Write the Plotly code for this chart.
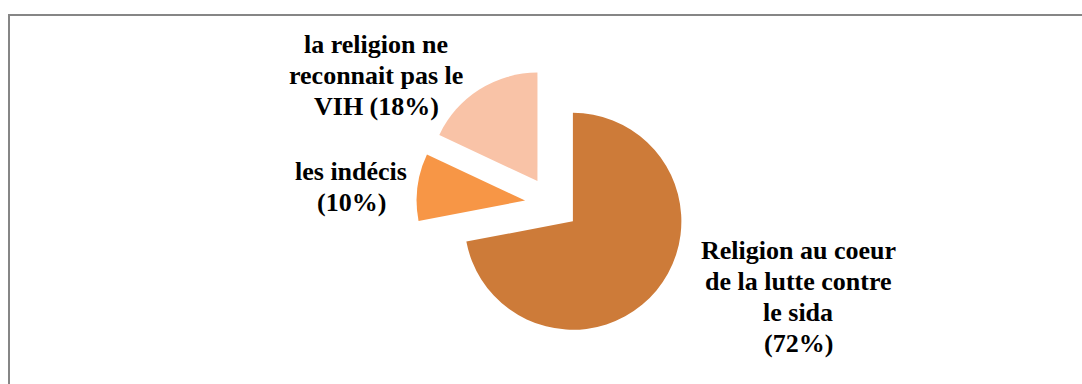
import plotly.graph_objects as go

# Slice data (clockwise from 12 o'clock)
categories = [
    "Religion au coeur de la lutte contre le sida",
    "les indécis",
    "la religion ne reconnait pas le VIH",
]
shares = [72, 10, 18]
colors = ["#CD7B39", "#F79646", "#F9C3A7"]

# Label lines and placement (pixels from the top-left corner)
label_lines = [
    ["Religion au coeur", "de la lutte contre", "le sida", "(72%)"],
    ["les indécis", "(10%)"],
    ["la religion ne", "reconnait pas le", "VIH (18%)"],
]
label_x = [798, 351, 376]
label_first_y = [250, 171, 44]
line_step = 31

W, H = 1082, 384

fig = go.Figure(
    go.Pie(
        labels=categories,
        values=shares,
        marker=dict(colors=colors, line=dict(width=0)),
        sort=False,
        direction="clockwise",
        rotation=0,
        pull=[0.25, 0.25, 0.25],
        textinfo="none",
        hoverinfo="label+percent",
        showlegend=False,
        domain=dict(
            x=[(552 - 135.6) / W, (552 + 135.6) / W],
            y=[(H - 204 - 135.6) / H, (H - 204 + 135.6) / H],
        ),
    )
)

annotations = []
for lines, lx, ly0 in zip(label_lines, label_x, label_first_y):
    for i, line in enumerate(lines):
        annotations.append(
            dict(
                text=line,
                x=lx / W,
                y=1 - (ly0 + i * line_step) / H,
                xref="paper",
                yref="paper",
                xanchor="center",
                yanchor="middle",
                showarrow=False,
                align="center",
                font=dict(family="Liberation Serif", size=26, color="#000000",
                          weight="bold"),
            )
        )

fig.update_layout(
    width=W,
    height=H,
    margin=dict(l=0, r=0, t=0, b=0),
    paper_bgcolor="#FFFFFF",
    plot_bgcolor="#FFFFFF",
    annotations=annotations,
    shapes=[
        dict(
            type="rect",
            xref="paper",
            yref="paper",
            x0=9 / W,
            x1=1.05,
            y0=-0.05,
            y1=1 - 15 / H,
            line=dict(color="#868686", width=2),
            fillcolor="rgba(0,0,0,0)",
            layer="below",
        )
    ],
)

fig.write_html("out.html")
